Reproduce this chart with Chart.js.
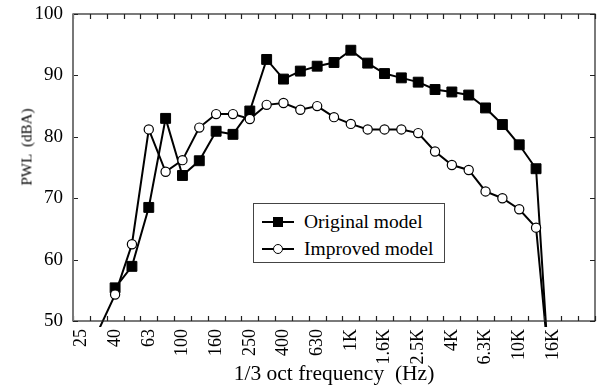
<!DOCTYPE html>
<html lang="en">
<head>
<meta charset="UTF-8" />
<title>PWL – 1/3 octave spectrum</title>
<script src="https://cdn.jsdelivr.net/npm/chart.js"></script>
<style>
  html, body { margin: 0; padding: 0; background: #fff; }
  #wrap { position: relative; width: 604px; height: 392px; }
  #yTitle {
    position: absolute; left: 27px; top: 147px;
    transform: translate(-50%, -50%) rotate(-90deg);
    font: 15px "Liberation Serif", serif; white-space: pre; color: #000;
  }
  #legend {
    position: absolute; left: 253px; top: 203px; width: 192px; height: 60px;
    box-sizing: border-box; border: 1.3px solid #444; background: #fff;
    padding-top: 4px; font: 19.5px "Liberation Serif", serif; color: #000;
  }
  #legend .row { height: 27px; line-height: 27px; white-space: nowrap; }
  #legend .sym { position: relative; display: inline-block; width: 32px; height: 27px; margin: 0 10px 0 8px; vertical-align: top; }
  #legend .sym::before { content: ''; position: absolute; left: 0; right: 0; top: 13px; border-top: 2px solid #000; }
  #legend .sq { position: absolute; left: 11px; top: 9px; width: 10px; height: 10px; background: #000; }
  #legend .ci { position: absolute; left: 11px; top: 9px; width: 10px; height: 10px; box-sizing: border-box; border: 1.3px solid #000; border-radius: 50%; background: #fff; }
</style>
</head>
<body>
<div id="wrap">
  <canvas id="pwlChart"></canvas>
  <div id="yTitle">PWL  (dBA)</div>
  <div id="legend">
    <div class="row"><span class="sym"><i class="sq"></i></span>Original model</div>
    <div class="row"><span class="sym"><i class="ci"></i></span>Improved model</div>
  </div>
</div>

<script>
// 1/3 octave band centres
const freqLabels = ['25', '31.5', '40', '50', '63', '80', '100', '125', '160', '200', '250', '315', '400', '500', '630', '800',
    '1K', '1.25K', '1.6K', '2K', '2.5K', '3.15K', '4K', '5K', '6.3K', '8K', '10K', '12.5K', '16K', '20K', '25K'];
const shownLabels = ['25', '40', '63', '100', '160', '250', '400', '630', '1K', '1.6K', '2.5K', '4K', '6.3K', '10K', '16K'];

// PWL (dBA)
const originalModel = [null, null, 55.4, 58.9, 68.5, 83.0, 73.7, 76.1, 80.9, 80.4, 84.2, 92.6, 89.4, 90.7, 91.5, 92.1,
    94.1, 92.0, 90.3, 89.6, 88.9, 87.7, 87.3, 86.8, 84.7, 82.0, 78.7, 74.8, 31.6, null, null];
const improvedModel = [null, 48.4, 54.3, 62.5, 81.2, 74.3, 76.2, 81.5, 83.7, 83.7, 82.9, 85.2, 85.5, 84.4, 85.0, 83.2,
    82.1, 81.2, 81.2, 81.2, 80.6, 77.6, 75.4, 74.6, 71.1, 70.0, 68.2, 65.2, 36.2, null, null];

const yTicks = [50, 60, 70, 80, 90, 100];

// points below the axis are not shown, only their line
const hideLow = r => ctx => (ctx.raw == null || ctx.raw < 50) ? 0 : r;

// box round the plot + inward tick marks
const frameTicks = {
    id: 'frameTicks',
    afterDatasetsDraw(chart) {
        const { ctx, chartArea: a, scales: { x, y } } = chart;
        const len = 5;
        ctx.save();
        ctx.strokeStyle = '#222';
        ctx.lineWidth = 1.2;
        ctx.beginPath();
        for (let i = 0; i <= freqLabels.length; i++) {
            const px = Math.round(x.getPixelForValue(i - 0.5)) + 0.5;
            ctx.moveTo(px, a.bottom); ctx.lineTo(px, a.bottom - len);
            ctx.moveTo(px, a.top); ctx.lineTo(px, a.top + len);
        }
        yTicks.forEach(v => {
            const py = Math.round(y.getPixelForValue(v)) + 0.5;
            ctx.moveTo(a.left, py); ctx.lineTo(a.left + len, py);
            ctx.moveTo(a.right, py); ctx.lineTo(a.right - len, py);
        });
        ctx.stroke();
        ctx.strokeRect(a.left, a.top, a.right - a.left, a.bottom - a.top);
        ctx.strokeStyle = '#777';
        ctx.lineWidth = 2;
        ctx.beginPath();
        ctx.moveTo(a.left, a.top); ctx.lineTo(a.left, a.bottom);
        ctx.stroke();
        ctx.restore();
    }
};

new Chart(document.getElementById('pwlChart'), {
    type: 'line',
    data: {
        labels: freqLabels,
        datasets: [{
            label: 'Original model',
            data: originalModel,
            order: 2,
            borderColor: '#000',
            borderWidth: 2,
            pointStyle: 'rect',
            pointRadius: hideLow(7),
            pointBackgroundColor: '#000',
            pointBorderColor: '#000',
            pointBorderWidth: 1,
            clip: { left: 0, top: 0, right: 0, bottom: 6 }
        }, {
            label: 'Improved model',
            data: improvedModel,
            order: 1,
            borderColor: '#000',
            borderWidth: 2,
            pointStyle: 'circle',
            pointRadius: hideLow(4.6),
            pointBackgroundColor: '#fff',
            pointBorderColor: '#000',
            pointBorderWidth: 1.2,
            clip: { left: 0, top: 0, right: 0, bottom: 6 }
        }]
    },
    options: {
        responsive: true,
        maintainAspectRatio: false,
        animation: false,
        devicePixelRatio: 1,
        layout: { padding: { top: 14, right: 9, left: 0, bottom: 0 } },
        plugins: { legend: { display: false }, tooltip: { enabled: false } },
        scales: {
            x: {
                type: 'category',
                offset: true,
                grid: { display: false },
                border: { display: false },
                ticks: {
                    autoSkip: false,
                    minRotation: 90,
                    maxRotation: 90,
                    padding: 0,
                    color: '#000',
                    font: { family: 'Liberation Serif', size: 18 },
                    callback: function (v) {
                        const l = this.getLabelForValue(v);
                        return shownLabels.includes(l) ? l : '';
                    }
                },
                title: {
                    display: true,
                    text: '1/3 oct frequency  (Hz)',
                    color: '#000',
                    font: { family: 'Liberation Serif', size: 21.5 },
                    padding: { top: 0, bottom: 5 }
                },
                afterFit: s => { s.height = 71; s.paddingLeft = 0; s.paddingRight = 0; }
            },
            y: {
                min: 50,
                max: 100,
                afterBuildTicks: s => { s.ticks = yTicks.map(v => ({ value: v })); },
                grid: { display: false },
                border: { display: false },
                ticks: {
                    padding: 2,
                    color: '#000',
                    font: { family: 'Liberation Serif', size: 19 }
                },
                afterFit: s => { s.width = 73; }
            }
        }
    },
    plugins: [frameTicks]
});
</script>
</body>
</html>
